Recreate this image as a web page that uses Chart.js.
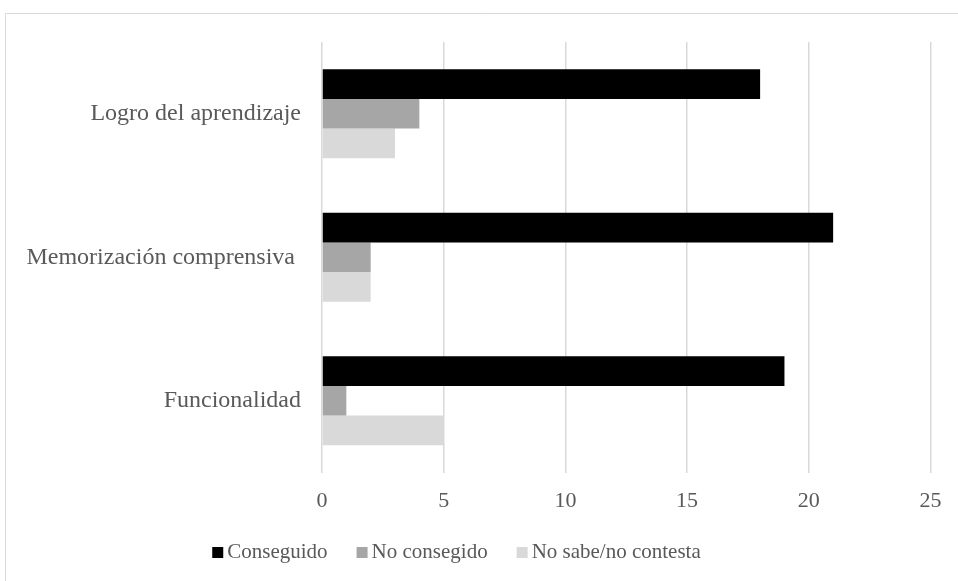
<!DOCTYPE html>
<html>
<head>
<meta charset="utf-8">
<script src="https://cdn.jsdelivr.net/npm/chart.js@4/dist/chart.umd.min.js"></script>
<style>
  html, body { margin: 0; padding: 0; background: #ffffff; }
  #wrap { width: 958px; height: 581px; position: relative; }
</style>
</head>
<body>
<div id="wrap"><canvas id="chart" width="958" height="581"></canvas></div>
<script>
// Categories, series and axis ticks
const categories = ['Logro del aprendizaje', 'Memorización comprensiva ', 'Funcionalidad'];
const seriesNames = ['Conseguido', 'No consegido', 'No sabe/no contesta'];
const conseguido = [18, 21, 19];
const noConseguido = [4, 2, 1];
const noSabe = [3, 2, 5];
const xTicks = [0, 5, 10, 15, 20, 25];

const seriesColors = ['#000000', '#a6a6a6', '#d9d9d9'];
const textColor = '#595959';
const gridColor = '#d9d9d9';
const serif = '"Liberation Serif", "Times New Roman", serif';

// Light frame on the left and top edges
const framePlugin = {
  id: 'frame',
  beforeDraw(chart) {
    const ctx = chart.ctx;
    ctx.save();
    ctx.strokeStyle = gridColor;
    ctx.lineWidth = 1;
    ctx.beginPath();
    ctx.moveTo(5.5, chart.height);
    ctx.lineTo(5.5, 13.5);
    ctx.lineTo(chart.width, 13.5);
    ctx.stroke();
    ctx.restore();
  }
};

// Legend row below the axis: small square followed by the series name
const legendRow = {
  id: 'legendRow',
  afterDraw(chart) {
    const ctx = chart.ctx;
    const box = 11, gap = 4, itemGap = 29, cy = 552;
    ctx.save();
    ctx.font = '21px ' + serif;
    ctx.textBaseline = 'middle';
    ctx.textAlign = 'left';
    const items = chart.data.datasets.map(ds => ({
      label: ds.label, color: ds.backgroundColor,
      w: box + gap + ctx.measureText(ds.label).width
    }));
    const total = items.reduce((s, it) => s + it.w, 0) + itemGap * (items.length - 1);
    let x = 456.5 - total / 2;
    items.forEach(it => {
      ctx.fillStyle = it.color;
      ctx.fillRect(x, cy - 5, box, box);
      ctx.fillStyle = textColor;
      ctx.fillText(it.label, x + box + gap, cy);
      x += it.w + itemGap;
    });
    ctx.restore();
  }
};

const seriesValues = [conseguido, noConseguido, noSabe];

new Chart(document.getElementById('chart'), {
  type: 'bar',
  data: {
    labels: categories,
    datasets: seriesValues.map((vals, i) => ({
      label: seriesNames[i],
      data: vals,
      backgroundColor: seriesColors[i],
      borderWidth: 0,
      categoryPercentage: 0.621,
      barPercentage: 1.0
    }))
  },
  options: {
    indexAxis: 'y',
    responsive: false,
    animation: false,
    layout: { padding: { left: 0, right: 27.5, top: 42, bottom: 0 } },
    plugins: {
      legend: { display: false },
      tooltip: { enabled: false }
    },
    scales: {
      x: {
        min: 0,
        max: 25,
        afterBuildTicks(scale) {
          scale.ticks = xTicks.map(v => ({ value: v }));
        },
        afterFit(scale) { scale.height = 108.5; },
        grid: { color: gridColor, lineWidth: 1.5, drawTicks: false },
        border: { display: false },
        ticks: {
          color: textColor,
          font: { family: serif, size: 22 },
          padding: 16,
          maxRotation: 0
        }
      },
      y: {
        afterFit(scale) { scale.width = 322; },
        grid: { display: false, drawTicks: false },
        border: { display: false },
        ticks: {
          color: textColor,
          font: { family: serif, size: 24 },
          padding: 21
        }
      }
    }
  },
  plugins: [framePlugin, legendRow]
});
</script>
</body>
</html>
